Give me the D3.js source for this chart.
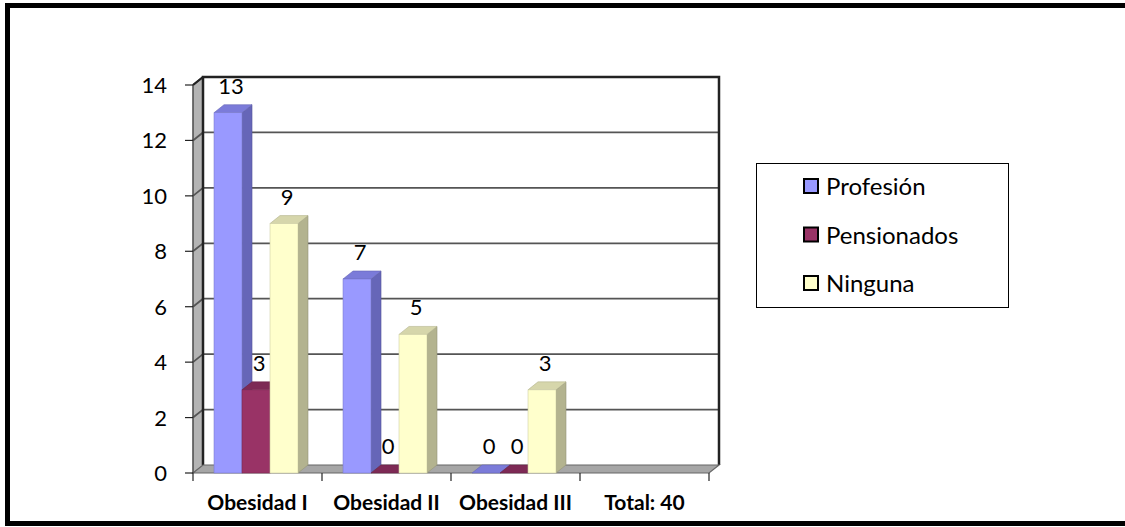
<!DOCTYPE html>
<html>
<head>
<meta charset="utf-8">
<script src="https://cdn.jsdelivr.net/npm/d3@7"></script>
<style>
    body { margin: 0; background: #fff; }
    svg text { font-family: Lato, "Open Sans", sans-serif; fill: #000; }
    .catLabel { font-weight: bold; font-size: 21px; }
    .tickLabel { font-size: 22px; }
    .valueLabel { font-size: 22px; }
    .legendText { font-size: 24px; }
</style>
</head>
<body onload="init()">
<div id="chart"></div>
<script>
/* values */
var CATEGORIES = ["Obesidad I", "Obesidad II", "Obesidad III", "Total: 40"];
var SERIES = ["Profesión", "Pensionados", "Ninguna"];
var PROFESION = [13, 7, 0, null];
var PENSIONADOS = [3, 0, 0, null];
var NINGUNA = [9, 5, 3, null];
var Y_TICKS = [0, 2, 4, 6, 8, 10, 12, 14];

var COLORS = {
    "Profesión":   {front: "#9999ff", side: "#6666b8", top: "#7b7bd9"},
    "Pensionados": {front: "#993366", side: "#6b2447", top: "#7d2a55"},
    "Ninguna":     {front: "#ffffcc", side: "#b3b38f", top: "#d6d6ab"}
};

var WIDTH = 1125;
var HEIGHT = 527;

/* depth of the 3d box (towards upper right) */
var DX = 10;
var DY = -8;

function init(){
    var svg = d3.select("#chart").append("svg").attr("width", WIDTH).attr("height", HEIGHT);

    var seriesValues = [PROFESION, PENSIONADOS, NINGUNA];

    var x0 = d3.scaleBand().domain(CATEGORIES).range([193, 709]);
    var bw = x0.bandwidth();
    var x1 = d3.scaleBand().domain(SERIES).range([bw * 0.163, bw * 0.814]);
    var y = d3.scaleLinear().domain([0, 14]).range([473, 85]);

    var left = x0.range()[0], right = x0.range()[1];
    var bottom = y(0), top = y(14);

    /* outer frame */
    svg.append("rect")
        .attr("x", 7.5).attr("y", 5.5)
        .attr("width", WIDTH + 20).attr("height", 518)
        .attr("fill", "none").attr("stroke", "#000").attr("stroke-width", 5);

    /* back wall */
    svg.append("rect")
        .attr("x", left + DX).attr("y", top + DY)
        .attr("width", right - left).attr("height", bottom - top)
        .attr("fill", "#fff");

    /* side wall */
    svg.append("path")
        .attr("d", "M" + left + "," + bottom + "L" + left + "," + top +
            "L" + (left + DX) + "," + (top + DY) + "L" + (left + DX) + "," + (bottom + DY) + "Z")
        .attr("fill", "#b4b4b4").attr("stroke", "#808080").attr("stroke-width", 1);

    /* gridlines on back and side wall */
    Y_TICKS.forEach(function(t){
        if (t === 0) return;
        svg.append("path")
            .attr("d", "M" + left + "," + y(t) + "L" + (left + DX) + "," + (y(t) + DY) + "L" + (right + DX) + "," + (y(t) + DY))
            .attr("fill", "none").attr("stroke", "#555").attr("stroke-width", 1.8);
    });

    /* wall outline */
    svg.append("path")
        .attr("d", "M" + (left + DX) + "," + (bottom + DY) + "L" + (left + DX) + "," + (top + DY) +
            "L" + (right + DX) + "," + (top + DY) + "L" + (right + DX) + "," + (bottom + DY))
        .attr("fill", "none").attr("stroke", "#222").attr("stroke-width", 2.5);
    svg.append("path")
        .attr("d", "M" + left + "," + top + "L" + (left + DX) + "," + (top + DY))
        .attr("fill", "none").attr("stroke", "#222").attr("stroke-width", 2);

    /* floor */
    svg.append("path")
        .attr("d", "M" + left + "," + bottom + "L" + right + "," + bottom +
            "L" + (right + DX) + "," + (bottom + DY) + "L" + (left + DX) + "," + (bottom + DY) + "Z")
        .attr("fill", "#a6a6a6").attr("stroke", "#666").attr("stroke-width", 1.2);

    /* y axis: front edge + ticks */
    svg.append("line")
        .attr("x1", left).attr("x2", left).attr("y1", top).attr("y2", bottom)
        .attr("stroke", "#444").attr("stroke-width", 1.2);
    Y_TICKS.forEach(function(t){
        svg.append("line")
            .attr("x1", left - 8).attr("x2", left).attr("y1", y(t)).attr("y2", y(t))
            .attr("stroke", "#222").attr("stroke-width", 1.2);
        svg.append("text")
            .classed("tickLabel", true)
            .attr("x", 167).attr("y", y(t) + 8)
            .attr("text-anchor", "end")
            .text(t);
    });

    /* x axis ticks + labels */
    var xTicks = CATEGORIES.map(function(c){ return x0(c); }).concat([right]);
    xTicks.forEach(function(xt){
        svg.append("line")
            .attr("x1", xt).attr("x2", xt).attr("y1", bottom).attr("y2", bottom + 8)
            .attr("stroke", "#222").attr("stroke-width", 1.2);
    });
    CATEGORIES.forEach(function(c){
        svg.append("text")
            .classed("catLabel", true)
            .attr("x", x0(c) + bw / 2).attr("y", 510)
            .attr("text-anchor", "middle")
            .text(c);
    });

    /* bars, left to right so front faces cover the side of the previous bar */
    var bars = [];
    CATEGORIES.forEach(function(c, ci){
        SERIES.forEach(function(s, si){
            var v = seriesValues[si][ci];
            if (v === null) return;
            bars.push({cat: c, series: s, value: v});
        });
    });

    var bwBar = x1.bandwidth();
    bars.forEach(function(b){
        var bx = x0(b.cat) + x1(b.series);
        var by = y(b.value);
        var col = COLORS[b.series];
        var g = svg.append("g");
        /* side */
        g.append("path")
            .attr("d", "M" + (bx + bwBar) + "," + bottom + "L" + (bx + bwBar) + "," + by +
                "L" + (bx + bwBar + DX) + "," + (by + DY) + "L" + (bx + bwBar + DX) + "," + (bottom + DY) + "Z")
            .attr("fill", col.side).attr("stroke", d3.color(col.side).darker(0.5)).attr("stroke-width", 0.6);
        /* top */
        g.append("path")
            .attr("d", "M" + bx + "," + by + "L" + (bx + bwBar) + "," + by +
                "L" + (bx + bwBar + DX) + "," + (by + DY) + "L" + (bx + DX) + "," + (by + DY) + "Z")
            .attr("fill", col.top).attr("stroke", d3.color(col.top).darker(0.5)).attr("stroke-width", 0.6);
        /* front */
        if (b.value > 0) {
            g.append("rect")
                .attr("x", bx).attr("y", by)
                .attr("width", bwBar).attr("height", bottom - by)
                .attr("fill", col.front).attr("stroke", d3.color(col.front).darker(0.6)).attr("stroke-width", 0.6);
        }
    });

    /* value labels */
    bars.forEach(function(b){
        var bx = x0(b.cat) + x1(b.series);
        svg.append("text")
            .classed("valueLabel", true)
            .attr("x", bx + bwBar / 2 + 3)
            .attr("y", y(b.value) + DY - 11)
            .attr("text-anchor", "middle")
            .text(b.value);
    });

    appendLegend(svg);
}

function appendLegend(svg){
    var lx = 756, ly = 163, lw = 252, lh = 144;
    svg.append("rect")
        .attr("x", lx + 0.5).attr("y", ly + 0.5)
        .attr("width", lw).attr("height", lh)
        .attr("fill", "#fff").attr("stroke", "#000").attr("stroke-width", 1);

    var rowY = d3.scalePoint().domain(SERIES).range([186, 283]);

    SERIES.forEach(function(s){
        svg.append("rect")
            .attr("x", 804).attr("y", rowY(s) - 7)
            .attr("width", 14).attr("height", 14)
            .attr("fill", COLORS[s].front).attr("stroke", "#000").attr("stroke-width", 2);
        svg.append("text")
            .classed("legendText", true)
            .attr("x", 826).attr("y", rowY(s) + 9)
            .text(s);
    });
}
</script>
</body>
</html>
